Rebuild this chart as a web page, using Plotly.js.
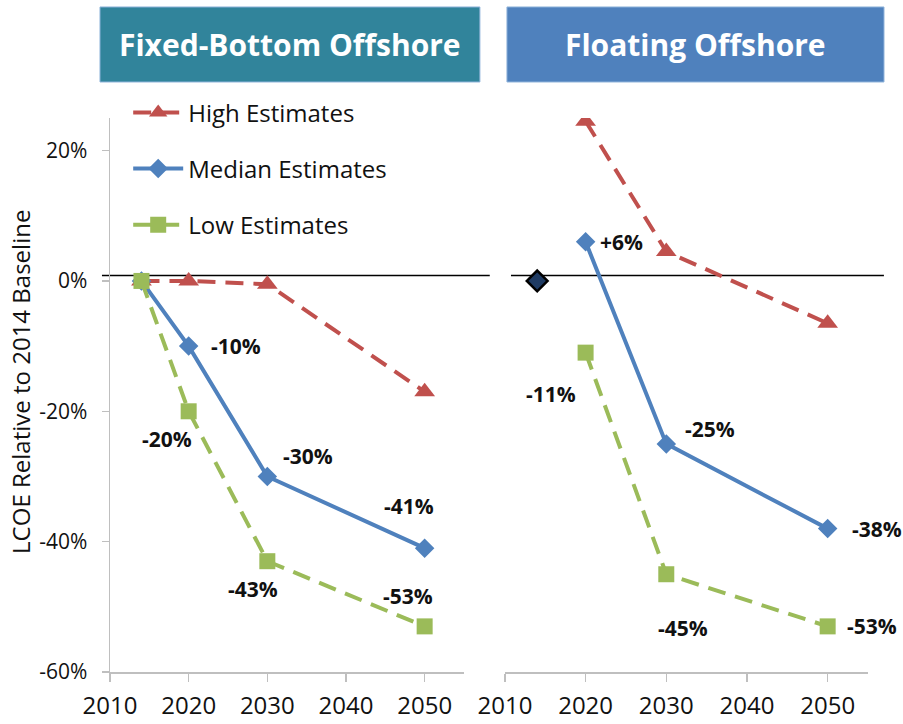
<!DOCTYPE html>
<html>
<head>
<meta charset="utf-8">
<script src="https://cdn.plot.ly/plotly-3.0.1.min.js"></script>
<style>
  html, body { margin: 0; padding: 0; background: #ffffff; }
  #chart { width: 903px; height: 724px; }
</style>
</head>
<body>
<div id="chart"></div>
<script>
// ---------- data ----------
var panelTitles = ['Fixed-Bottom Offshore', 'Floating Offshore'];
var seriesNames = ['High Estimates', 'Median Estimates', 'Low Estimates'];
var yAxisTitle = 'LCOE Relative to 2014 Baseline';

var fixedYears = [2014, 2020, 2030, 2050];
var fixedHigh = [0, 0, -0.5, -17];
var fixedMedian = [0, -10, -30, -41];
var fixedLow = [0, -20, -43, -53];

var floatYears = [2020, 2030, 2050];
var floatHigh = [24.5, 4.5, -6.5];
var floatMedian = [6, -25, -38];
var floatLow = [-11, -45, -53];

var baselineYear = [2014];
var baselineValue = [0];

var xTickVals = [2010, 2020, 2030, 2040, 2050];
var yTickVals = [-60, -40, -20, 0, 20];
var yTickText = ['-60%', '-40%', '-20%', '0%', '20%'];

// ---------- styles / label placement (not data) ----------
var colHigh = '#C0504D', colMed = '#4F81BD', colLow = '#9BBB59';
var axisGray = '#BFBFBF';
var FONT = 'Open Sans, Liberation Sans, sans-serif';
var dashPat = '18px,10px';

// label offsets [xshift, yshift(up)] ; null = no label
var fixedMedOff = [null, [47, 0], [41, 20], [-16, 42]];
var fixedLowOff = [null, [-22, -28], [-14, -28], [-17, 30]];
var floatMedOff = [[36, 0], [44, 15], [49, 0]];
var floatLowOff = [[-35, -41], [17, -54], [44, 0]];

function mk(name, xs, ys, color, dash, symbol, size, xa, ya, showleg, group) {
  return {
    type: 'scatter', mode: 'lines+markers', name: name,
    x: xs, y: ys, xaxis: xa, yaxis: ya,
    line: { color: color, width: 4, dash: dash },
    marker: { color: color, symbol: symbol, size: size },
    showlegend: showleg, legendgroup: group, hoverinfo: 'x+y'
  };
}

var traces = [
  mk(seriesNames[0], fixedYears, fixedHigh, colHigh, dashPat, 'triangle-up', 18, 'x', 'y', true, 'g1'),
  mk(seriesNames[1], fixedYears, fixedMedian, colMed, 'solid', 'diamond', 15, 'x', 'y', true, 'g2'),
  mk(seriesNames[2], fixedYears, fixedLow, colLow, dashPat, 'square', 16, 'x', 'y', true, 'g3'),
  mk(seriesNames[0], floatYears, floatHigh, colHigh, dashPat, 'triangle-up', 18, 'x2', 'y2', false, 'g1'),
  mk(seriesNames[1], floatYears, floatMedian, colMed, 'solid', 'diamond', 15, 'x2', 'y2', false, 'g2'),
  mk(seriesNames[2], floatYears, floatLow, colLow, dashPat, 'square', 16, 'x2', 'y2', false, 'g3'),
  {
    type: 'scatter', mode: 'markers', name: 'Baseline', x: baselineYear, y: baselineValue,
    xaxis: 'x2', yaxis: 'y2', showlegend: false,
    marker: { symbol: 'diamond', size: 16, color: '#1F3B63', line: { color: '#000000', width: 2.5 } }
  }
];

function fmt(v) { return (v > 0 ? '+' : '') + Math.round(v) + '%'; }

var annotations = [];
function addLabels(xs, ys, offs, xa, ya) {
  for (var i = 0; i < xs.length; i++) {
    if (!offs[i]) continue;
    annotations.push({
      x: xs[i], y: ys[i], xref: xa, yref: ya, text: fmt(ys[i]), showarrow: false,
      xanchor: 'center', yanchor: 'middle', xshift: offs[i][0], yshift: offs[i][1],
      font: { family: FONT, size: 21, color: '#111111', weight: 700 }
    });
  }
}
addLabels(fixedYears, fixedMedian, fixedMedOff, 'x', 'y');
addLabels(fixedYears, fixedLow, fixedLowOff, 'x', 'y');
addLabels(floatYears, floatMedian, floatMedOff, 'x2', 'y2');
addLabels(floatYears, floatLow, floatLowOff, 'x2', 'y2');

// panel titles
var boxX = [[-0.0132, 0.488], [0.5237, 1.0211]];
var boxCol = ['#31849B', '#4F81BD'];
var shapes = [];
for (var p = 0; p < 2; p++) {
  shapes.push({
    type: 'rect', xref: 'paper', yref: 'paper', x0: boxX[p][0], x1: boxX[p][1], y0: 1.065, y1: 1.2004,
    fillcolor: boxCol[p], line: { color: '#8FB3DA', width: 1 }, layer: 'above'
  });
  annotations.push({
    xref: 'paper', yref: 'paper', x: (boxX[p][0] + boxX[p][1]) / 2, y: 1.1327,
    xanchor: 'center', yanchor: 'middle', showarrow: false, text: panelTitles[p],
    font: { family: FONT, size: 30, color: '#ffffff', weight: 700 }
  });
}
// zero reference lines (slightly above 0 as in the original)
shapes.push({ type: 'line', xref: 'paper', yref: 'y', x0: -0.0106, x1: 0.501, y0: 0.85, y1: 0.85,
  line: { color: '#000000', width: 1.5 }, layer: 'below' });
shapes.push({ type: 'line', xref: 'paper', yref: 'y', x0: 0.529, x1: 1.021, y0: 0.85, y1: 0.85,
  line: { color: '#000000', width: 1.5 }, layer: 'below' });

// y-axis title as rotated annotation
annotations.push({
  xref: 'paper', yref: 'paper', x: -0.1175, y: 0.5235, textangle: -90, showarrow: false,
  xanchor: 'center', yanchor: 'middle', text: yAxisTitle,
  font: { family: FONT, size: 24, color: '#111111' }
});

var xCommon = {
  range: [2010, 2055], tickvals: xTickVals, showline: true, linecolor: axisGray, linewidth: 1.5,
  ticks: 'outside', ticklen: 8, tickcolor: axisGray, tickwidth: 1.5, showgrid: false, zeroline: false,
  tickfont: { family: FONT, size: 24, color: '#111111' }, ticklabelstandoff: 4, fixedrange: true
};

var layout = {
  width: 903, height: 724,
  margin: { l: 110, r: 35, t: 118, b: 52 },
  paper_bgcolor: '#ffffff', plot_bgcolor: 'rgba(0,0,0,0)',
  font: { family: FONT, color: '#111111' },
  xaxis: Object.assign({}, xCommon, { domain: [0, 0.467], anchor: 'y' }),
  xaxis2: Object.assign({}, xCommon, { domain: [0.521, 1], anchor: 'y2' }),
  yaxis: {
    domain: [0, 1], range: [-60, 25], tickvals: yTickVals, ticktext: yTickText,
    showline: true, linecolor: axisGray, linewidth: 1.5, ticks: 'outside', ticklen: 7,
    tickcolor: axisGray, tickwidth: 1.5, showgrid: false, zeroline: false,
    tickfont: { family: FONT, size: 21, color: '#111111' }, ticklabelstandoff: 10, anchor: 'x'
  },
  yaxis2: { domain: [0, 1], range: [-60, 25], visible: false, anchor: 'x2', matches: 'y' },
  showlegend: true,
  legend: {
    x: 0.024, y: 1.05, xanchor: 'left', yanchor: 'top', bgcolor: 'rgba(0,0,0,0)',
    font: { family: FONT, size: 24, color: '#111111' }, tracegroupgap: 22, traceorder: 'grouped',
    itemwidth: 50
  },
  shapes: shapes,
  annotations: annotations
};

Plotly.newPlot('chart', traces, layout, { displayModeBar: false, staticPlot: true });
</script>
</body>
</html>
